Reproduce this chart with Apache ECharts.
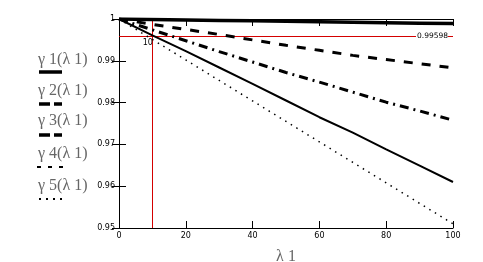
<!DOCTYPE html>
<html>
<head>
<meta charset="utf-8">
<script src="https://cdn.jsdelivr.net/npm/echarts@6/dist/echarts.min.js"></script>
<style>html,body{margin:0;padding:0;background:#fff}#c{width:483px;height:262px}</style>
</head>
<body>
<div id="c"></div>
<script>
const xValues = [0, 10, 20, 30, 40, 50, 60, 70, 80, 90, 100];
const gamma1 = [1, 0.99989, 0.99978, 0.99967, 0.99956, 0.99945, 0.99934, 0.99923, 0.99912, 0.99901, 0.9989];
const gamma2 = [1, 0.9987, 0.9975, 0.9963, 0.9950, 0.9937, 0.9925, 0.9913, 0.9903, 0.9893, 0.9883];
const gamma3 = [1, 0.9974, 0.9948, 0.9922, 0.9897, 0.9872, 0.9849, 0.9825, 0.9801, 0.9780, 0.9758];
const gamma4 = [1, 0.9961, 0.9923, 0.9884, 0.9845, 0.9805, 0.9765, 0.9728, 0.9688, 0.9649, 0.9610];
const gamma5 = [1, 0.9951, 0.9902, 0.9853, 0.9804, 0.9755, 0.9706, 0.9657, 0.9608, 0.9559, 0.9510];
const seriesNames = ['γ 1(λ 1)', 'γ 2(λ 1)', 'γ 3(λ 1)', 'γ 4(λ 1)', 'γ 5(λ 1)'];
const yTicks = [0.95, 0.96, 0.97, 0.98, 0.99, 1];
const xTicks = [0, 20, 40, 60, 80, 100];
const markY = 0.99598;
const markX = 10;
const xName = 'λ 1';

const pair = arr => xValues.map((x, i) => [x, arr[i]]);
const chart = echarts.init(document.getElementById('c'), null, {renderer: 'canvas'});
const tickFont = {fontFamily: 'DejaVu Sans', fontSize: 8, color: '#000'};
const axisCommon = {
  axisLine: {show: true, lineStyle: {color: '#000', width: 1}},
  axisTick: {show: true, inside: true, length: 7, lineStyle: {color: '#000', width: 1}},
  splitLine: {show: false}
};
const legendFont = '16px "Liberation Serif"';
const legendRows = [
  {ty: 61, ly: 72, w: 3.5, dash: null, x1: 39, x2: 62},
  {ty: 92, ly: 104, w: 3.5, dash: [11, 4], x1: 39, x2: 62},
  {ty: 122, ly: 135, w: 3.5, dash: [11, 4], x1: 39, x2: 62},
  {ty: 155, ly: 167, w: 2, dash: [4, 7], x1: 37, x2: 64},
  {ty: 186.5, ly: 199, w: 2, dash: [2, 5], x1: 39, x2: 63}
];
const graphic = [];
legendRows.forEach((r, i) => {
  graphic.push({type: 'text', left: 38, top: r.ty - 9, style: {text: seriesNames[i], font: legendFont, fill: '#666'}});
  graphic.push({type: 'line', shape: {x1: r.x1, y1: r.ly, x2: r.x2, y2: r.ly}, style: {stroke: '#000', lineWidth: r.w, lineDash: r.dash}});
});
const markStyle = {color: '#d40000', width: 1, type: 'solid'};

chart.setOption({
  animation: false,
  backgroundColor: '#fff',
  grid: {left: 119, top: 19, right: 30, bottom: 34, containLabel: false, outerBoundsMode: 'none'},
  graphic: graphic,
  xAxis: [
    Object.assign({type: 'value', min: 0, max: 100, interval: 20, position: 'bottom',
      name: xName, nameLocation: 'middle', nameGap: 21,
      nameTextStyle: {fontFamily: 'Liberation Serif', fontSize: 16, color: '#666'},
      axisLabel: Object.assign({margin: 4, formatter: v => xTicks.includes(v) ? String(v) : ''}, tickFont)}, axisCommon),
    Object.assign({type: 'value', min: 0, max: 100, interval: 20, position: 'top', axisLabel: {show: false}}, axisCommon)
  ],
  yAxis: [
    Object.assign({type: 'value', min: 0.95, max: 1, interval: 0.01, position: 'left',
      axisLabel: Object.assign({margin: 4, formatter: v => {const t = yTicks.find(k => Math.abs(k - v) < 1e-9); return t === undefined ? '' : String(t);}}, tickFont)}, axisCommon),
    Object.assign({type: 'value', min: 0.95, max: 1, interval: 0.01, position: 'right', axisLabel: {show: false}}, axisCommon)
  ],
  series: [
    {name: seriesNames[0], type: 'line', data: pair(gamma1), showSymbol: false, lineStyle: {color: '#000', width: 3.5}, z: 5,
      markLine: {silent: true, symbol: ['none', 'none'], lineStyle: markStyle, z: 1,
        label: {show: true, position: 'insideEndTop', distance: [5, -4], formatter: String(markY), fontFamily: 'DejaVu Sans', fontSize: 7.5, color: '#000', backgroundColor: '#fff', padding: [0, 0, 0, 1]},
        data: [[{coord: [xValues[0], markY]}, {coord: [xValues[xValues.length - 1], markY]}]]}},
    {name: seriesNames[1], type: 'line', data: pair(gamma2), showSymbol: false, lineStyle: {color: '#000', width: 3, type: [9, 9]},
      markLine: {silent: true, symbol: ['none', 'none'], lineStyle: markStyle, z: 1, label: {show: false},
        data: [[{coord: [markX, yTicks[0]]}, {coord: [markX, yTicks[yTicks.length - 1]]}]]},
      markPoint: {silent: true, symbol: 'circle', symbolSize: 1, itemStyle: {color: 'rgba(0,0,0,0)'},
        label: {show: true, formatter: String(markX), position: 'left', offset: [1, 7], distance: 0, fontFamily: 'DejaVu Sans', fontSize: 8, color: '#000'},
        data: [{coord: [markX, markY]}]}},
    {name: seriesNames[2], type: 'line', data: pair(gamma3), showSymbol: false, lineStyle: {color: '#000', width: 3, type: [9, 5, 2, 5]}},
    {name: seriesNames[3], type: 'line', data: pair(gamma4), showSymbol: false, lineStyle: {color: '#000', width: 2}},
    {name: seriesNames[4], type: 'line', data: pair(gamma5), showSymbol: false, lineStyle: {color: '#000', width: 1.5, type: [1.5, 5]}}
  ]
});
</script>
</body>
</html>
